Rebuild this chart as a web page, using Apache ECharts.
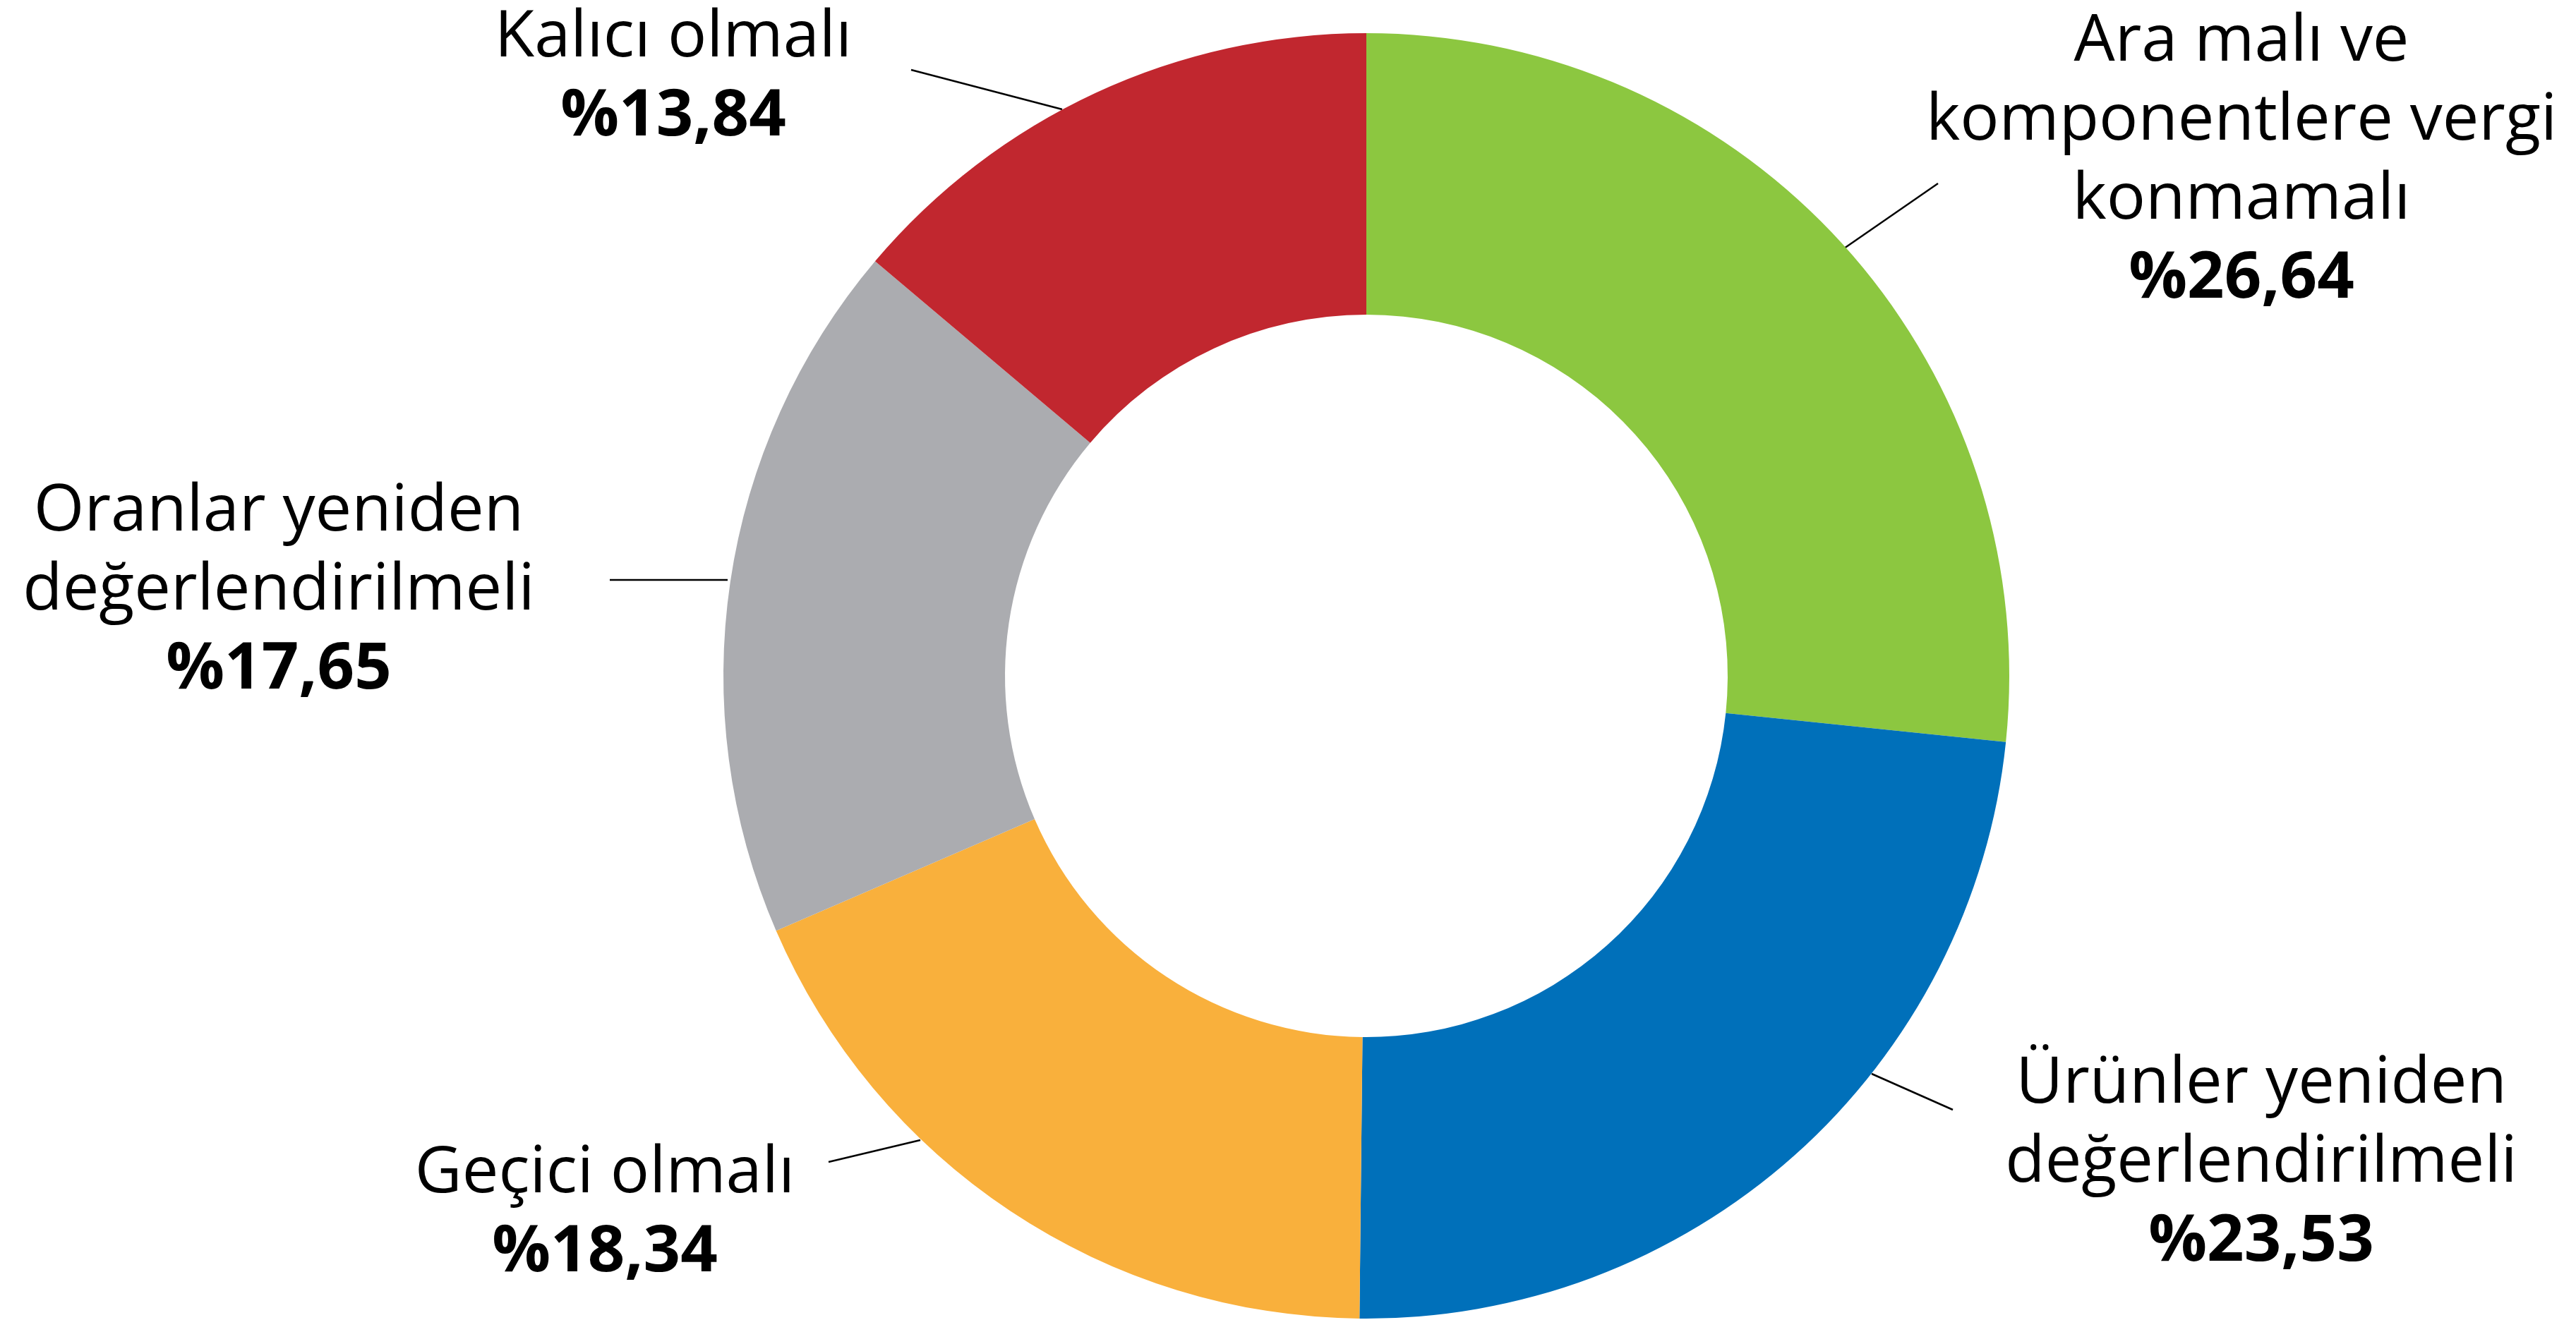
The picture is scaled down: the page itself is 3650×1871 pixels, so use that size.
<!DOCTYPE html>
<html>
<head>
<meta charset="utf-8">
<script src="https://cdn.jsdelivr.net/npm/echarts@6/dist/echarts.min.js"></script>
<style>
  html, body { margin: 0; padding: 0; background: #ffffff; }
  #chart { width: 3650px; height: 1871px; }
</style>
</head>
<body>
<div id="chart"></div>
<script>
// Survey answers, clockwise from 12 o'clock
const categories = [
  'Ara malı ve\nkomponentlere vergi\nkonmamalı',
  'Ürünler yeniden\ndeğerlendirilmeli',
  'Geçici olmalı',
  'Oranlar yeniden\ndeğerlendirilmeli',
  'Kalıcı olmalı'
];
const shares = [26.64, 23.53, 18.34, 17.65, 13.84];

const sliceColors = ['#8CC740', '#0070BA', '#F9B03C', '#ABACB0', '#C1272F'];

// Ring geometry (pixels)
const ringCenter = [1936, 958];
const ringRadius = [512, 911];

// Label block centres and leader-line segments (pixels)
const labelCenters = [[3176, 228], [3204, 1649], [857, 1720], [395, 838], [954, 110]];
const leaderLines = [
  [[2613, 352], [2746, 260]],
  [[2652, 1522], [2767, 1573]],
  [[1304, 1616], [1174, 1647]],
  [[1031, 822], [864, 822]],
  [[1505, 155], [1291, 99]]
];

const fmt = v => '%' + v.toFixed(2).replace('.', ',');

const chart = echarts.init(document.getElementById('chart'), null, { renderer: 'canvas' });

chart.setOption({
  backgroundColor: '#ffffff',
  animation: false,
  series: [{
    type: 'pie',
    center: ringCenter,
    radius: ringRadius,
    startAngle: 90,
    clockwise: true,
    avoidLabelOverlap: false,
    itemStyle: { borderWidth: 0 },
    emphasis: { disabled: true },
    data: categories.map((name, i) => ({
      name: name,
      value: shares[i],
      itemStyle: { color: sliceColors[i] }
    })),
    label: {
      show: true,
      position: 'outside',
      formatter: p => p.name.split('\n').map(l => '{n|' + l + '}').join('\n') + '\n{v|' + fmt(p.value) + '}',
      rich: {
        n: { fontFamily: 'Open Sans', fontSize: 92, fontWeight: 400, color: '#000', lineHeight: 112, align: 'center' },
        v: { fontFamily: 'Open Sans', fontSize: 92, fontWeight: 700, color: '#000', lineHeight: 112, align: 'center' }
      }
    },
    labelLine: {
      show: true,
      lineStyle: { color: '#000000', width: 2.5 }
    },
    labelLayout: function (params) {
      const i = params.dataIndex;
      const seg = leaderLines[i];
      const mid = [(seg[0][0] + seg[1][0]) / 2, (seg[0][1] + seg[1][1]) / 2];
      return {
        x: labelCenters[i][0],
        y: labelCenters[i][1],
        align: 'center',
        verticalAlign: 'middle',
        labelLinePoints: [seg[0], mid, seg[1]]
      };
    }
  }]
});
</script>
</body>
</html>
